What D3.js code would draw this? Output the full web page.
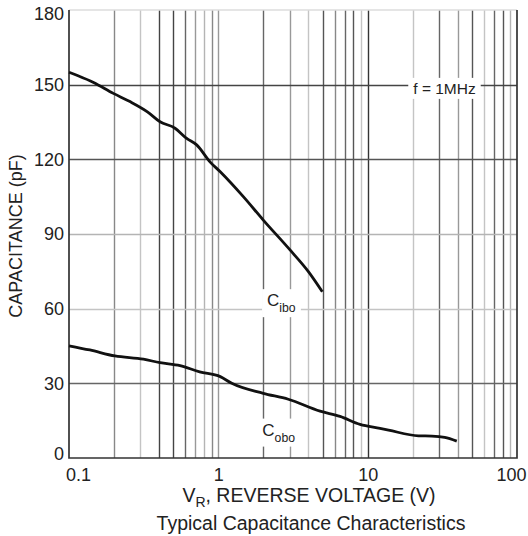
<!DOCTYPE html>
<html>
<head>
<meta charset="utf-8">
<script src="https://cdn.jsdelivr.net/npm/d3@7"></script>
<style>
  body { margin: 0; background: #fff; }
  svg { display: block; font-family: "Liberation Sans", Arial, sans-serif; }
</style>
</head>
<body>
<div id="graph"></div>
<script>
// data
const ciboVolts = [0.1, 0.115, 0.146, 0.198, 0.256, 0.335, 0.407, 0.513, 0.614, 0.716, 0.879, 1.03, 1.47, 2.0, 3.02, 4.01, 4.97];
const ciboCap   = [155, 153.6, 150.9, 146.5, 143.2, 139.1, 135.1, 132.5, 128.4, 125.8, 119.0, 115.0, 105.0, 95.6, 83.6, 74.9, 66.8];
const coboVolts = [0.1, 0.138, 0.203, 0.315, 0.407, 0.554, 0.75, 1.03, 1.23, 2.0, 2.94, 4.8, 6.53, 8.89, 12.1, 13.8, 21.9, 26.9, 32.8, 39.5];
const coboCap   = [45.1, 43.4, 41.0, 39.7, 38.3, 37.1, 34.6, 32.7, 30.0, 26.0, 23.6, 18.8, 16.7, 13.5, 11.9, 11.2, 8.9, 8.8, 8.3, 6.8];
const xTicks = [0.1, 1, 10, 100];
const yTicks = [0, 30, 60, 90, 120, 150, 180];

// grid shade per line (scanned sheet has uneven grays)
const vShade = {
  0.2: "#888", 0.3: "#c4c4c4", 0.4: "#444", 0.5: "#444", 0.6: "#666", 0.7: "#999", 0.8: "#b4b4b4", 0.9: "#888",
  1: "#999", 2: "#666", 3: "#999", 4: "#c4c4c4", 5: "#555", 6: "#888", 7: "#666", 8: "#555", 9: "#c4c4c4",
  10: "#333", 20: "#c4c4c4", 30: "#666", 40: "#999", 50: "#555", 60: "#c4c4c4", 70: "#666", 80: "#555", 90: "#b4b4b4"
};
const hShade = { 30: "#666", 60: "#c4c4c4", 90: "#b4b4b4", 120: "#555", 150: "#444" };

const width = 528, height = 536;
const marginLeft = 69, marginRight = 11, marginTop = 10, marginBottom = 78;

const x = d3.scaleLog().domain([0.1, 100]).range([marginLeft, width - marginRight]);
const y = d3.scaleLinear().domain([0, 180]).range([height - marginBottom, marginTop]);

const svg = d3.select("#graph").append("svg")
  .attr("width", width).attr("height", height);

// minor/major vertical grid
const gridVals = [];
for (const d of [0.1, 1, 10]) for (let k = 1; k <= 9; k++) gridVals.push(+(d * k).toPrecision(3));
svg.append("g")
  .selectAll("line")
  .data(gridVals.filter(v => v > 0.1))
  .join("line")
  .attr("x1", d => Math.round(x(d)) + 0.5).attr("x2", d => Math.round(x(d)) + 0.5)
  .attr("y1", y(180)).attr("y2", y(0))
  .attr("stroke", d => vShade[d] || "#999")
  .attr("stroke-width", 1.4);

svg.append("g")
  .selectAll("line")
  .data(yTicks.filter(v => v > 0 && v < 180))
  .join("line")
  .attr("x1", x(0.1)).attr("x2", x(100))
  .attr("y1", d => Math.round(y(d)) + 0.5).attr("y2", d => Math.round(y(d)) + 0.5)
  .attr("stroke", d => hShade[d])
  .attr("stroke-width", 1.4);

// top border is faint, the other three dark
svg.append("line").attr("x1", x(0.1)).attr("x2", x(100)).attr("y1", y(180)).attr("y2", y(180))
  .attr("stroke", "#ddd").attr("stroke-width", 1.3);
svg.append("path")
  .attr("d", `M${x(0.1)},${y(180)}V${y(0)}H${x(100)}V${y(180)}`)
  .attr("fill", "none").attr("stroke", "#333").attr("stroke-width", 1.7);

// label backgrounds that break the grid
function label(main, sub, vx, vy, size) {
  const g = svg.append("g");
  const t = g.append("text")
    .attr("x", x(vx)).attr("y", y(vy))
    .attr("font-size", size).attr("fill", "#222");
  t.append("tspan").text(main);
  if (sub) t.append("tspan").attr("font-size", size * 0.72).attr("dy", 6).text(sub);
  const b = t.node().getBBox();
  g.insert("rect", "text")
    .attr("x", b.x - 5).attr("y", b.y - 2)
    .attr("width", b.width + 10).attr("height", b.height + 4)
    .attr("fill", "#fff");
}
label("f = 1MHz", null, 20.2, 146.3, 15.5);
label("C", "ibo", 2.12, 61, 17);
label("C", "obo", 1.97, 9, 17);

// curves
const line = d3.line().x(d => x(d[0])).y(d => y(d[1])).curve(d3.curveMonotoneX);
svg.append("path")
  .datum(d3.zip(ciboVolts, ciboCap))
  .attr("d", line)
  .attr("fill", "none").attr("stroke", "#111").attr("stroke-width", 2.8);
svg.append("path")
  .datum(d3.zip(coboVolts, coboCap))
  .attr("d", line)
  .attr("fill", "none").attr("stroke", "#111").attr("stroke-width", 2.8);

// axes
const xAxis = svg.append("g")
  .attr("transform", `translate(0,${y(0)})`)
  .call(d3.axisBottom(x).tickValues(xTicks).tickFormat(d3.format("~g")).tickSize(0).tickPadding(10));
xAxis.select(".domain").remove();
xAxis.selectAll("text").attr("font-size", 18).attr("fill", "#222").attr("font-family", null)
  .attr("dx", d => d === 0.1 ? 9 : d === 100 ? -6 : 0);

const yAxis = svg.append("g")
  .attr("transform", `translate(${marginLeft},0)`)
  .call(d3.axisLeft(y).tickValues(yTicks).tickSize(0).tickPadding(5));
yAxis.select(".domain").remove();
yAxis.selectAll("text").attr("font-size", 18).attr("fill", "#222").attr("font-family", null)
  .attr("dy", d => d === 0 ? "0.1em" : d === 180 ? "0.5em" : "0.32em");

svg.append("text")
  .attr("transform", "rotate(-90)")
  .attr("x", -236).attr("y", 22)
  .attr("text-anchor", "middle")
  .attr("font-size", 18).attr("fill", "#222")
  .text("CAPACITANCE (pF)");

const xt = svg.append("text")
  .attr("x", 309).attr("y", 502)
  .attr("text-anchor", "middle")
  .attr("font-size", 19.5).attr("fill", "#222");
xt.append("tspan").text("V");
xt.append("tspan").attr("font-size", 14).attr("dy", 5).text("R");
xt.append("tspan").attr("dy", -5).text(", REVERSE VOLTAGE (V)");

svg.append("text")
  .attr("x", 311).attr("y", 530)
  .attr("text-anchor", "middle")
  .attr("font-size", 19.5).attr("fill", "#222")
  .text("Typical Capacitance Characteristics");
</script>
</body>
</html>
